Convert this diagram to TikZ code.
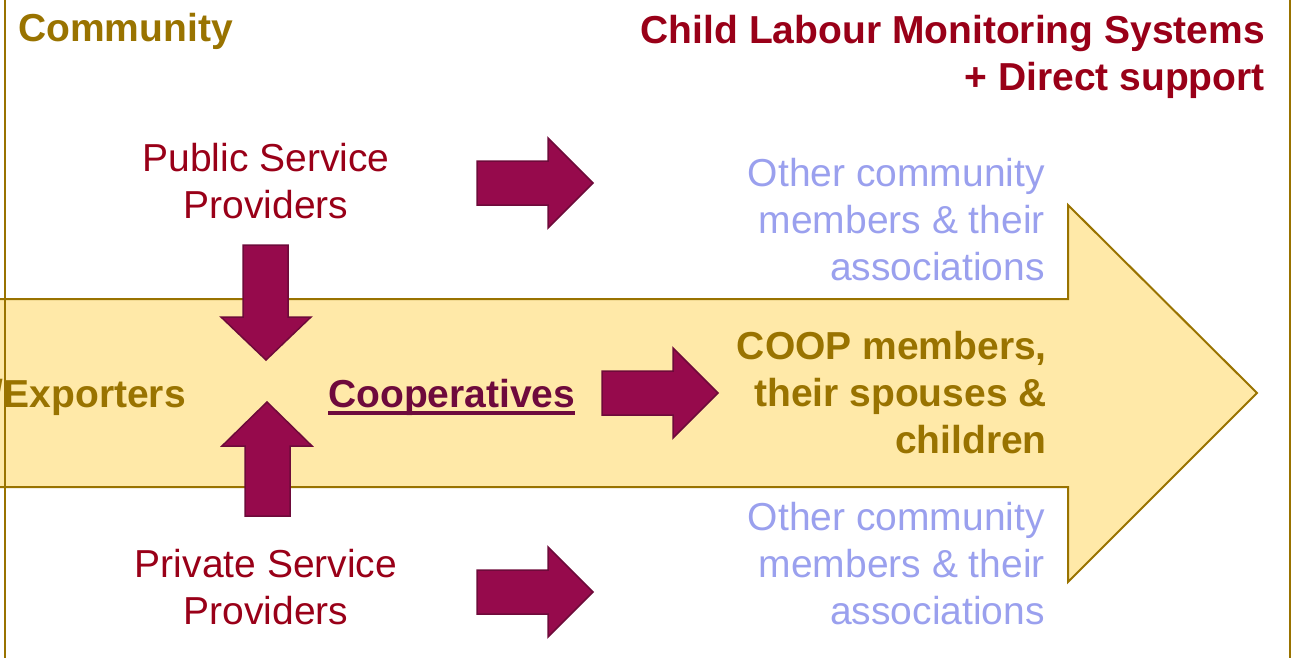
\documentclass[tikz,border=0pt]{standalone}
\usepackage{fontspec}
\setmainfont{Liberation Sans}

\definecolor{gold}{HTML}{997300}
\definecolor{darkred}{HTML}{990018}
\definecolor{paleblue}{HTML}{9AA0EE}
\definecolor{bandfill}{HTML}{FFE9A8}
\definecolor{arrowfill}{HTML}{960A4C}
\definecolor{arrowedge}{HTML}{6E0A3A}
\definecolor{coopcol}{HTML}{6E0A3C}

\tikzset{
  blockarrow/.style={fill=arrowfill, draw=arrowedge, line width=1.5pt},
  txt/.style={inner sep=0pt, font=\fontsize{39}{47}\selectfont},
  boldtxt/.style={txt, font=\fontsize{39}{47}\selectfont\bfseries},
}

\begin{document}
\begin{tikzpicture}[x=1pt,y=-1pt]
  \clip (0,0) rectangle (1292,658);
  % the big band arrow
  \draw[fill=bandfill, draw=gold, line width=2pt] (-10,299) -- (1068,299) -- (1068,205)
    -- (1257,393) -- (1068,582) -- (1068,487) -- (-10,487) -- cycle;
  % frame
  \draw[gold, line width=2pt] (5,0) -- (5,658);
  \draw[gold, line width=2pt] (1290,0) -- (1290,658);

  % block arrows
  \draw[blockarrow] (477,161) -- (548,161) -- (548,138) -- (593,183) -- (548,228) -- (548,205) -- (477,205) -- cycle;
  \draw[blockarrow] (602,371) -- (673,371) -- (673,348) -- (718,393) -- (673,438) -- (673,415) -- (602,415) -- cycle;
  \draw[blockarrow] (477,570) -- (548,570) -- (548,547) -- (593,592) -- (548,637) -- (548,614) -- (477,614) -- cycle;
  \draw[blockarrow] (243,245) -- (288,245) -- (288,317) -- (311,317) -- (266,360) -- (221,317) -- (243,317) -- cycle;
  \draw[blockarrow] (245,516) -- (245,446) -- (222,446) -- (267,402) -- (312,446) -- (290,446) -- (290,516) -- cycle;

  % texts (base anchor = last line)
  \node[boldtxt, text=gold, anchor=base west] (community) at (18,42) {Community};
  \node[boldtxt, text=darkred, anchor=base east, align=right] (clms) at (1265,91)
    {Child Labour Monitoring Systems\\+ Direct support};
  \node[txt, text=darkred, anchor=base, align=center] (public) at (266,218) {Public Service\\Providers};
  \node[txt, text=darkred, anchor=base, align=center] (private) at (266,624) {Private Service\\Providers};
  \node[txt, text=paleblue, anchor=base east, align=right] (otherstop) at (1045,280)
    {Other community\\members \& their\\associations};
  \node[txt, text=paleblue, anchor=base east, align=right] (othersbottom) at (1045,624)
    {Other community\\members \& their\\associations};
  \node[boldtxt, text=gold, anchor=base east, align=right] (coopmembers) at (1047,453)
    {COOP members,\\their spouses \&\\children};
  \node[boldtxt, text=gold, anchor=base east] (exporters) at (186,407) {/Exporters};
  \node[boldtxt, text=coopcol, anchor=base west] (cooperatives) at (328,407) {Cooperatives};
  \draw[coopcol, line width=4pt] ([yshift=-6pt]cooperatives.base west) -- ([yshift=-6pt]cooperatives.base east);
\end{tikzpicture}
\end{document}
